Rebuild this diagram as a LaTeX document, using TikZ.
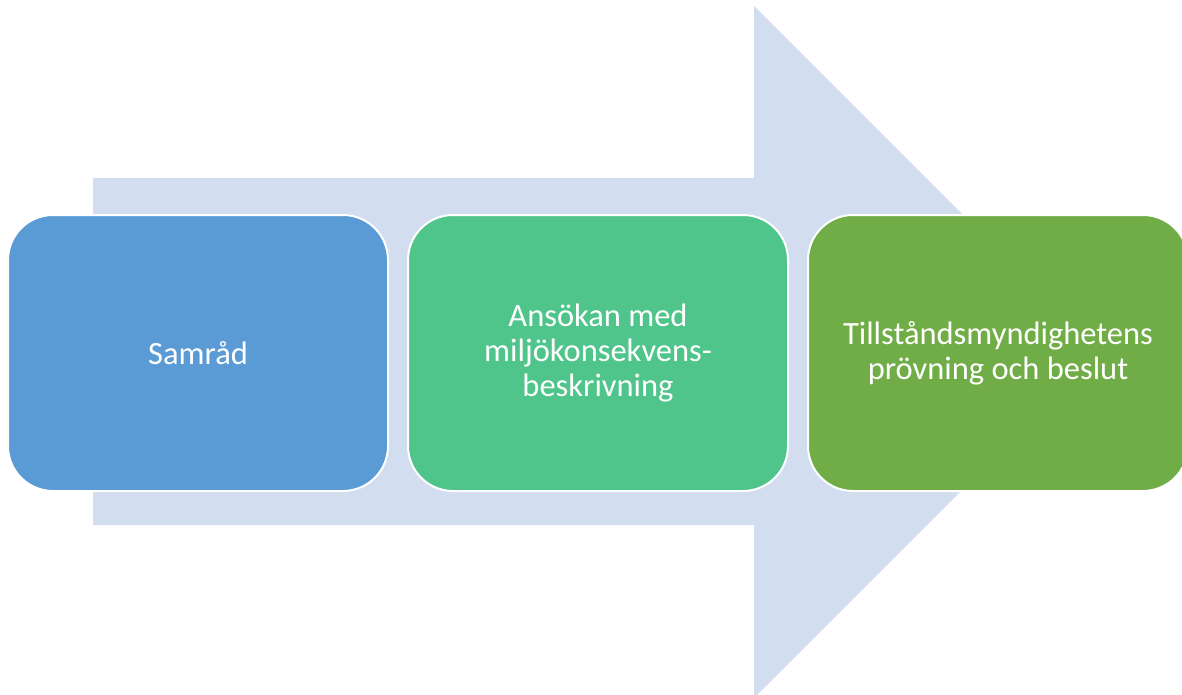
\documentclass[tikz,border=0pt]{standalone}
\usepackage{fontspec}
\setmainfont{Carlito}
\definecolor{arrowfill}{HTML}{D2DEEF}
\definecolor{stepblue}{HTML}{5B9BD5}
\definecolor{stepteal}{HTML}{4FC58C}
\definecolor{stepgreen}{HTML}{70AD47}
\begin{document}
\begin{tikzpicture}[x=1pt,y=-1pt,
  stagebox/.style={draw=white,line width=2pt,rounded corners=45pt,
    minimum width=380pt,minimum height=276pt,inner sep=0pt,
    text=white,font=\fontsize{32.5}{35}\selectfont,align=center,anchor=north west}]
\useasboundingbox[fill=white] (0,0) rectangle (1182,695);
\begin{scope}
\clip (0,0) rectangle (1182,695);
% wide process arrow behind the stages
\fill[arrowfill] (93,178) -- (754,178) -- (754,6) -- (1100,352) -- (754,698)
  -- (754,525) -- (93,525) -- cycle;
% the three stages
\node[stagebox,fill=stepblue] (s1) at (7,214) {Samråd};
\node[stagebox,fill=stepteal] (s2) at (407,214) {Ansökan med\\miljökonsekvens-\\beskrivning};
\node[stagebox,fill=stepgreen] (s3) at (807,214) {Tillståndsmyndighetens\\prövning och beslut};
\end{scope}
\end{tikzpicture}
\end{document}
